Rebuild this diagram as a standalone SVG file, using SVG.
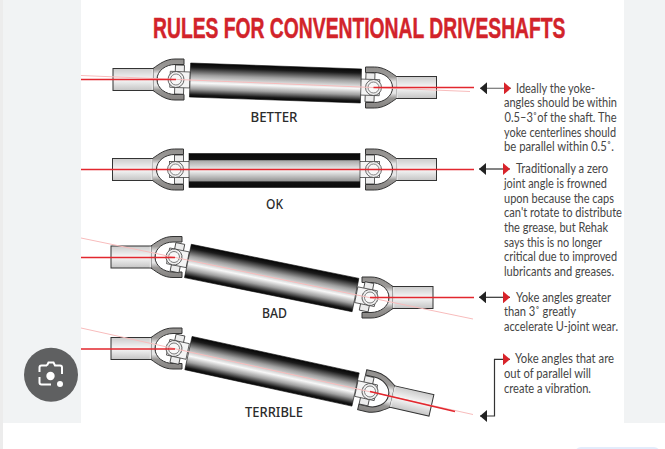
<svg xmlns="http://www.w3.org/2000/svg" xmlns:xlink="http://www.w3.org/1999/xlink" width="665" height="449" viewBox="0 0 665 449">
<style>
.note{font-family:Lato,"Noto Sans",sans-serif;font-size:12.5px;fill:#454545}
.lab{font-family:"Noto Sans","Liberation Sans",sans-serif;font-size:14.5px;font-weight:500;fill:#2b2b2b;text-anchor:middle}
.pink{stroke:#f8bcbc;stroke-width:1;fill:none}
.red{stroke:#e2272e;stroke-width:1.6;fill:none}
.arr{stroke:#333;stroke-width:1.2;fill:none;marker-start:url(#bk);marker-end:url(#rd)}
.tube{fill:url(#tubeG);stroke:#111;stroke-width:.6}
</style>
<defs>
<linearGradient id="tubeG" x1="0" y1="0" x2="0" y2="1">
<stop offset="0" stop-color="#050505"/><stop offset=".12" stop-color="#1a1a1a"/><stop offset=".35" stop-color="#a0a0a0"/><stop offset=".58" stop-color="#f8f8f8"/><stop offset=".76" stop-color="#a0a0a0"/><stop offset=".93" stop-color="#181818"/><stop offset="1" stop-color="#050505"/>
</linearGradient>
<linearGradient id="okG" x1="0" y1="0" x2="0" y2="1">
<stop offset="0" stop-color="#0a0a0a"/><stop offset=".19" stop-color="#111"/><stop offset=".21" stop-color="#a8a8a8"/><stop offset=".5" stop-color="#f4f4f4"/><stop offset=".8" stop-color="#989898"/><stop offset=".84" stop-color="#111"/><stop offset="1" stop-color="#0a0a0a"/>
</linearGradient>
<linearGradient id="tailG" x1="0" y1="0" x2="0" y2="1">
<stop offset="0" stop-color="#cbcbcb"/><stop offset=".5" stop-color="#f7f7f7"/><stop offset="1" stop-color="#c4c4c4"/>
</linearGradient>
<linearGradient id="bandG" x1="0" y1="0" x2="0" y2="1">
<stop offset="0" stop-color="#918f8d"/><stop offset=".24" stop-color="#9c9a98"/><stop offset=".36" stop-color="#e6e6e6"/><stop offset=".64" stop-color="#e6e6e6"/><stop offset=".76" stop-color="#989694"/><stop offset="1" stop-color="#858381"/>
</linearGradient>
<g id="yoke">
<rect x="-63" y="-11" width="44" height="22" fill="url(#tailG)" stroke="#333" stroke-width="1"/>
<path d="M8,-20.500H-1C-10,-20.500 -16,-16 -23,-11V11C-16,16 -10,20.500 -1,20.500H8V15H-1C-10,15 -19,9 -19,0C-19,-9 -10,-15 -1,-15H8Z" fill="url(#bandG)" stroke="#333" stroke-width="1"/>
<path d="M-23.500,-10.400V10.400" stroke="#e6e6e6" stroke-width="1.500"/>
</g>
<g id="cross">
<rect x="-1" y="-14.500" width="9" height="29" fill="#ececec" stroke="#333" stroke-width=".8"/>
<rect x="-6" y="-8" width="20" height="16" fill="#f4f4f4" stroke="#444" stroke-width=".8"/>
<circle r="8" fill="#f0f0f0" stroke="#444" stroke-width=".8"/>
<circle r="5.500" fill="#f8f8f8" stroke="#666" stroke-width=".8"/>
</g>
<marker id="bk" markerUnits="userSpaceOnUse" markerWidth="8" markerHeight="12" refX="0" refY="6" orient="auto"><path d="M0,6L7,0V12Z" fill="#222"/></marker>
<marker id="rd" markerUnits="userSpaceOnUse" markerWidth="8" markerHeight="12" refX="7" refY="6" orient="auto"><path d="M0,0L7,6L0,12Z" fill="#d8232a"/></marker>
</defs>

<rect width="665" height="449" fill="#fff"/>
<rect x="3" width="78" height="423" fill="#f1f3f4"/>
<rect x="624" width="41" height="423" fill="#f1f3f4"/>
<rect width="3" height="449" fill="#ececec"/>
<rect x="575" y="447" width="85" height="12" rx="6" fill="#e3ecfb"/>

<text transform="translate(153,38) scale(.6435,1)" font-family="Liberation Sans,sans-serif" font-weight="700" font-size="30" fill="#d2232a" stroke="#d2232a" stroke-width=".5">RULES FOR CONVENTIONAL DRIVESHAFTS</text>

<g id="shaft-better">
<use xlink:href="#yoke" href="#yoke" transform="translate(176,79.500)"/>
<use xlink:href="#cross" href="#cross" transform="translate(176,79.500) rotate(2)"/>
<use xlink:href="#yoke" href="#yoke" transform="translate(373.500,87.500) scale(-1,1)"/>
<use xlink:href="#cross" href="#cross" transform="translate(373.500,87.500) rotate(182)"/>
<rect class="tube" x="-85.500" y="-17" width="171" height="34" transform="translate(275.500,83) rotate(2)"/>
<text class="lab" x="274" y="122" textLength="47" lengthAdjust="spacingAndGlyphs">BETTER</text>
</g>
<g id="shaft-ok">
<use xlink:href="#yoke" href="#yoke" transform="translate(175.500,169.500)"/>
<use xlink:href="#cross" href="#cross" transform="translate(175.500,169.500)"/>
<use xlink:href="#yoke" href="#yoke" transform="translate(373.500,169.500) scale(-1,1)"/>
<use xlink:href="#cross" href="#cross" transform="translate(373.500,169.500) rotate(180)"/>
<rect x="189" y="153.500" width="171" height="34" fill="url(#okG)" stroke="#111" stroke-width=".6"/>
<text class="lab" x="274.500" y="209" textLength="17" lengthAdjust="spacingAndGlyphs">OK</text>
</g>
<g id="shaft-bad">
<use xlink:href="#yoke" href="#yoke" transform="translate(174,257)"/>
<use xlink:href="#cross" href="#cross" transform="translate(174,257) rotate(11.500)"/>
<use xlink:href="#yoke" href="#yoke" transform="translate(370,297.500) scale(-1,1)"/>
<use xlink:href="#cross" href="#cross" transform="translate(370,297.500) rotate(191.500)"/>
<rect class="tube" x="-85.500" y="-17" width="171" height="34" transform="translate(271.700,278) rotate(11.500)"/>
<text class="lab" x="274.500" y="318" textLength="25" lengthAdjust="spacingAndGlyphs">BAD</text>
</g>
<g id="shaft-terrible">
<use xlink:href="#yoke" href="#yoke" transform="translate(174,348.500)"/>
<use xlink:href="#cross" href="#cross" transform="translate(174,348.500) rotate(12.300)"/>
<use xlink:href="#yoke" href="#yoke" transform="translate(370,391.500) rotate(12.800) scale(-1,1)"/>
<use xlink:href="#cross" href="#cross" transform="translate(370,391.500) rotate(192.300)"/>
<rect class="tube" x="-85.500" y="-17" width="171" height="34" transform="translate(272,371.300) rotate(12.300)"/>
<text class="lab" x="274" y="417" textLength="58" lengthAdjust="spacingAndGlyphs">TERRIBLE</text>
</g>

<g id="connectors">
<path class="pink" d="M81,75.500L470,91.500"/>
<path class="red" d="M81,79.500H176M373.500,87.500H474"/>
<path class="red" d="M81,169.500H474"/>
<path class="pink" d="M81,238L473,319"/>
<path class="red" d="M81,257.500H175M370,297.500H474"/>
<path class="pink" d="M81,328L473,414.500"/>
<path class="red" d="M81,349H175M370,391.500L455,411.500"/>
<path class="arr" d="M480,88.300H511" style="stroke:#777"/>
<path class="arr" d="M479,169H510"/>
<path class="arr" d="M479,297.300H510"/>
<path class="arr" d="M480,416H494.500V359.300H510"/>
</g>

<g id="notes">
<text class="note" x="516" y="92.700" textLength="79" lengthAdjust="spacingAndGlyphs">Ideally the yoke-</text>
<text class="note" x="504" y="107.300" textLength="113" lengthAdjust="spacingAndGlyphs">angles should be within</text>
<text class="note" x="504.500" y="121.900" textLength="112" lengthAdjust="spacingAndGlyphs">0.5–3˚of the shaft. The</text>
<text class="note" x="504" y="136.500" textLength="112" lengthAdjust="spacingAndGlyphs">yoke centerlines should</text>
<text class="note" x="504" y="151.100" textLength="110" lengthAdjust="spacingAndGlyphs">be parallel within 0.5˚.</text>
<text class="note" x="516" y="173.300" textLength="92" lengthAdjust="spacingAndGlyphs">Traditionally a zero</text>
<text class="note" x="504" y="188" textLength="103" lengthAdjust="spacingAndGlyphs">joint angle is frowned</text>
<text class="note" x="504" y="202.600" textLength="110" lengthAdjust="spacingAndGlyphs">upon because the caps</text>
<text class="note" x="504" y="217.300" textLength="118" lengthAdjust="spacingAndGlyphs">can't rotate to distribute</text>
<text class="note" x="504" y="232" textLength="104" lengthAdjust="spacingAndGlyphs">the grease, but Rehak</text>
<text class="note" x="504" y="246.600" textLength="98" lengthAdjust="spacingAndGlyphs">says this is no longer</text>
<text class="note" x="504" y="261.300" textLength="113" lengthAdjust="spacingAndGlyphs">critical due to improved</text>
<text class="note" x="504" y="276" textLength="110" lengthAdjust="spacingAndGlyphs">lubricants and greases.</text>
<text class="note" x="516" y="301.700" textLength="95" lengthAdjust="spacingAndGlyphs">Yoke angles greater</text>
<text class="note" x="504" y="316.300" textLength="72" lengthAdjust="spacingAndGlyphs">than 3˚ greatly</text>
<text class="note" x="504" y="331" textLength="114" lengthAdjust="spacingAndGlyphs">accelerate U-joint wear.</text>
<text class="note" x="515" y="363.300" textLength="99" lengthAdjust="spacingAndGlyphs">Yoke angles that are</text>
<text class="note" x="504" y="378" textLength="87" lengthAdjust="spacingAndGlyphs">out of parallel will</text>
<text class="note" x="504" y="392.700" textLength="87" lengthAdjust="spacingAndGlyphs">create a vibration.</text>
</g>

<g id="lens-badge">
<circle cx="51" cy="374.700" r="27" fill="#5f6061"/>
<path d="M47,365.500L48.500,362.500H53.500L55,365.500H60Q62,365.500 62,367.500V374" fill="none" stroke="#fff" stroke-width="2"/>
<path d="M47,365.500H41.500Q39.500,365.500 39.500,367.500V372M39.500,377V382.500Q39.500,384.500 41.500,384.500H51" fill="none" stroke="#fff" stroke-width="2"/>
<circle cx="50.500" cy="376" r="4.200" fill="#fff"/>
<circle cx="60" cy="384" r="3" fill="#fff"/>
</g>
</svg>
